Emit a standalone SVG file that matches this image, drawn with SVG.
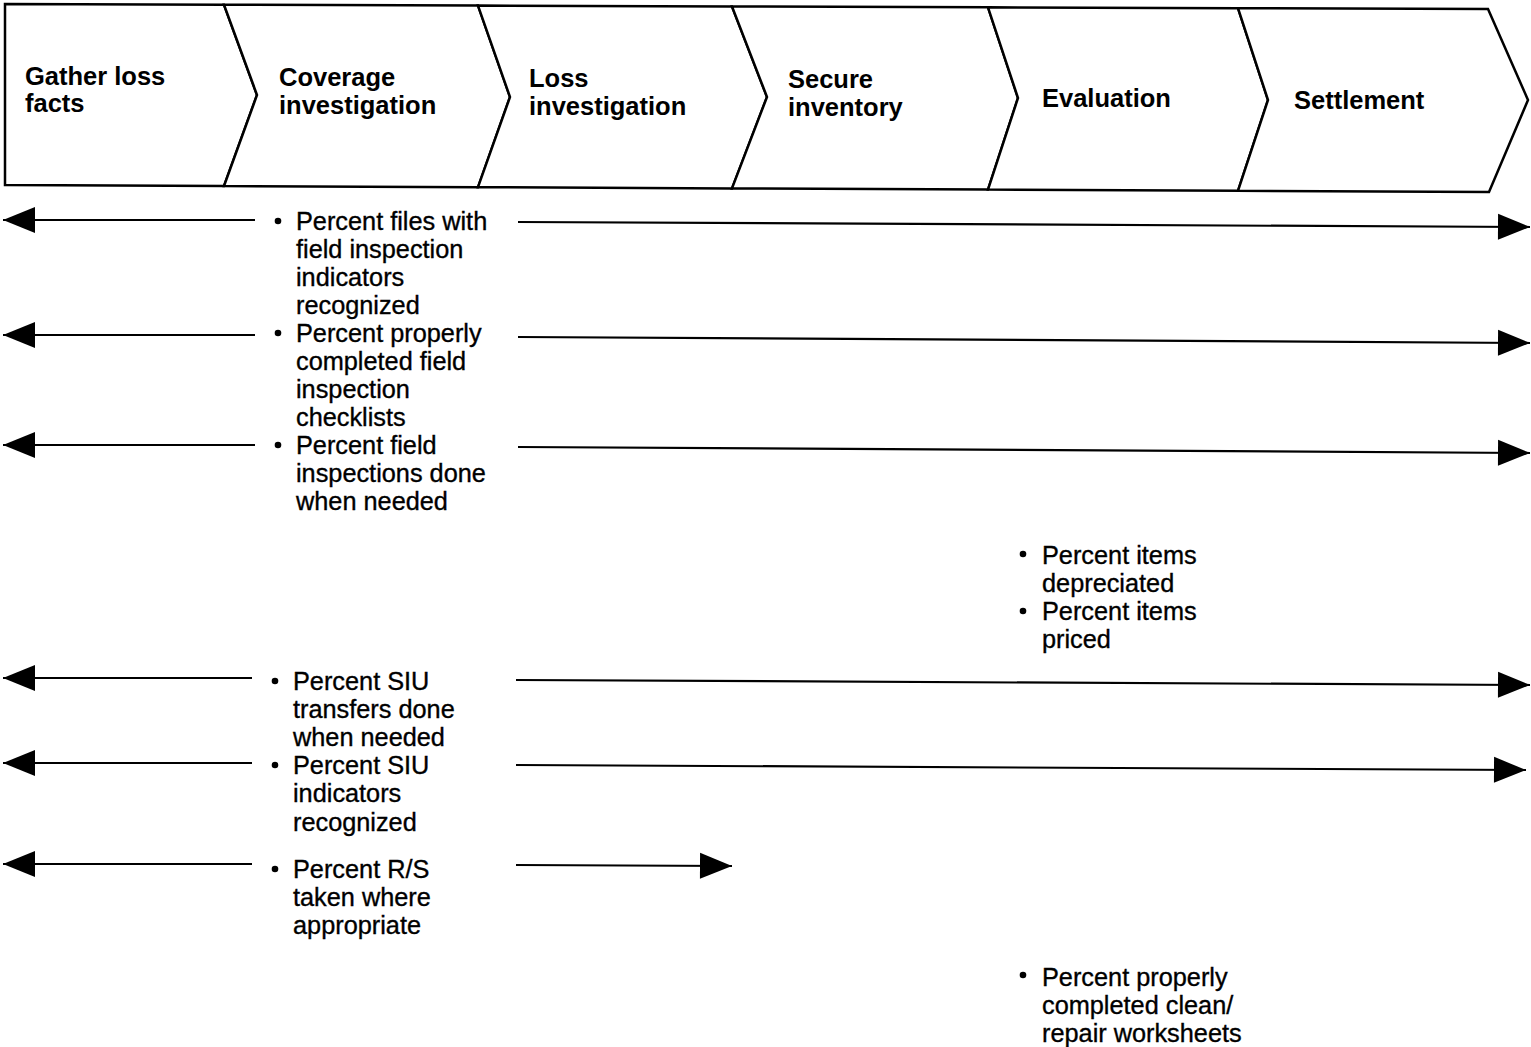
<svg xmlns="http://www.w3.org/2000/svg" width="1531" height="1047" viewBox="0 0 1531 1047">
  <style>
    .stage { fill: #fff; stroke: #000; stroke-width: 2.5; stroke-linejoin: miter; }
    .head { font-family: "Liberation Sans", Arial, sans-serif; font-weight: bold; font-size: 25.5px; fill: #000; }
    .metric { font-family: "Liberation Sans", Arial, sans-serif; font-size: 25.3px; fill: #000; stroke: #000; stroke-width: 0.35; }
    .bullet { fill: #000; }
    .conn { fill: none; stroke: #000; stroke-width: 2.2; }
  </style>
  <defs>
    <marker id="arrow" markerUnits="userSpaceOnUse" markerWidth="34" markerHeight="28" refX="32" refY="13" orient="auto" overflow="visible">
      <path d="M0,0 L32,13 L0,26 Z" fill="#000"/>
    </marker>
  </defs>
  <rect width="1531" height="1047" fill="#fff"/>

  <!-- process stages -->
  <g id="stage-gather">
    <polygon class="stage" points="5,4 224,4.7 257,95 224,186 5,185"/>
    <text class="head" x="25" y="85">Gather loss</text>
    <text class="head" x="25" y="112">facts</text>
  </g>
  <g id="stage-coverage">
    <polygon class="stage" points="224,4.7 478,5.6 510,97 478,187.2 224,186 257,95"/>
    <text class="head" x="279" y="86">Coverage</text>
    <text class="head" x="279" y="114">investigation</text>
  </g>
  <g id="stage-loss">
    <polygon class="stage" points="478,5.6 732,6.5 767,97 732,188.4 478,187.2 510,97"/>
    <text class="head" x="529" y="87">Loss</text>
    <text class="head" x="529" y="115">investigation</text>
  </g>
  <g id="stage-inventory">
    <polygon class="stage" points="732,6.5 988,7.3 1018,98 988,189.6 732,188.4 767,97"/>
    <text class="head" x="788" y="88">Secure</text>
    <text class="head" x="788" y="116">inventory</text>
  </g>
  <g id="stage-evaluation">
    <polygon class="stage" points="988,7.3 1238,8.2 1268,100 1238,190.8 988,189.6 1018,98"/>
    <text class="head" x="1042" y="107">Evaluation</text>
  </g>
  <g id="stage-settlement">
    <polygon class="stage" points="1238,8.2 1488,9 1528,100 1489,192 1238,190.8 1268,100"/>
    <text class="head" x="1294" y="109">Settlement</text>
  </g>

  <!-- span arrows -->
  <g id="connectors">
    <path class="conn" d="M255,220 L3,220" marker-end="url(#arrow)"/>
    <path class="conn" d="M518,222 L1530,227" marker-end="url(#arrow)"/>
    <path class="conn" d="M255,335 L3,335" marker-end="url(#arrow)"/>
    <path class="conn" d="M518,337 L1530,343" marker-end="url(#arrow)"/>
    <path class="conn" d="M255,445 L3,445" marker-end="url(#arrow)"/>
    <path class="conn" d="M518,447 L1530,453" marker-end="url(#arrow)"/>
    <path class="conn" d="M252,678 L3,678" marker-end="url(#arrow)"/>
    <path class="conn" d="M516,680 L1530,685" marker-end="url(#arrow)"/>
    <path class="conn" d="M252,763 L3,763" marker-end="url(#arrow)"/>
    <path class="conn" d="M516,765 L1526,770" marker-end="url(#arrow)"/>
    <path class="conn" d="M252,864 L3,864" marker-end="url(#arrow)"/>
    <path class="conn" d="M516,865 L732,866" marker-end="url(#arrow)"/>
  </g>

  <!-- field inspection measures -->
  <g id="metrics-field">
    <circle class="bullet" cx="278" cy="221" r="3.3"/>
    <text class="metric" x="296" y="230">Percent files with</text>
    <text class="metric" x="296" y="258">field inspection</text>
    <text class="metric" x="296" y="286">indicators</text>
    <text class="metric" x="296" y="314">recognized</text>
    <circle class="bullet" cx="278" cy="333" r="3.3"/>
    <text class="metric" x="296" y="342">Percent properly</text>
    <text class="metric" x="296" y="370">completed field</text>
    <text class="metric" x="296" y="398">inspection</text>
    <text class="metric" x="296" y="426">checklists</text>
    <circle class="bullet" cx="278" cy="445" r="3.3"/>
    <text class="metric" x="296" y="454">Percent field</text>
    <text class="metric" x="296" y="482">inspections done</text>
    <text class="metric" x="296" y="510">when needed</text>
  </g>

  <!-- evaluation measures -->
  <g id="metrics-evaluation">
    <circle class="bullet" cx="1023" cy="554" r="3.3"/>
    <text class="metric" x="1042" y="564">Percent items</text>
    <text class="metric" x="1042" y="592">depreciated</text>
    <circle class="bullet" cx="1023" cy="611" r="3.3"/>
    <text class="metric" x="1042" y="620">Percent items</text>
    <text class="metric" x="1042" y="648">priced</text>
  </g>

  <!-- SIU and R/S measures -->
  <g id="metrics-siu">
    <circle class="bullet" cx="275" cy="681" r="3.3"/>
    <text class="metric" x="293" y="690">Percent SIU</text>
    <text class="metric" x="293" y="718">transfers done</text>
    <text class="metric" x="293" y="746">when needed</text>
    <circle class="bullet" cx="275" cy="765" r="3.3"/>
    <text class="metric" x="293" y="774">Percent SIU</text>
    <text class="metric" x="293" y="802">indicators</text>
    <text class="metric" x="293" y="831">recognized</text>
    <circle class="bullet" cx="275" cy="869" r="3.3"/>
    <text class="metric" x="293" y="878">Percent R/S</text>
    <text class="metric" x="293" y="906">taken where</text>
    <text class="metric" x="293" y="934">appropriate</text>
  </g>

  <!-- clean/repair measure -->
  <g id="metrics-repair">
    <circle class="bullet" cx="1023" cy="975" r="3.3"/>
    <text class="metric" x="1042" y="986">Percent properly</text>
    <text class="metric" x="1042" y="1014">completed clean/</text>
    <text class="metric" x="1042" y="1042">repair worksheets</text>
  </g>
</svg>
